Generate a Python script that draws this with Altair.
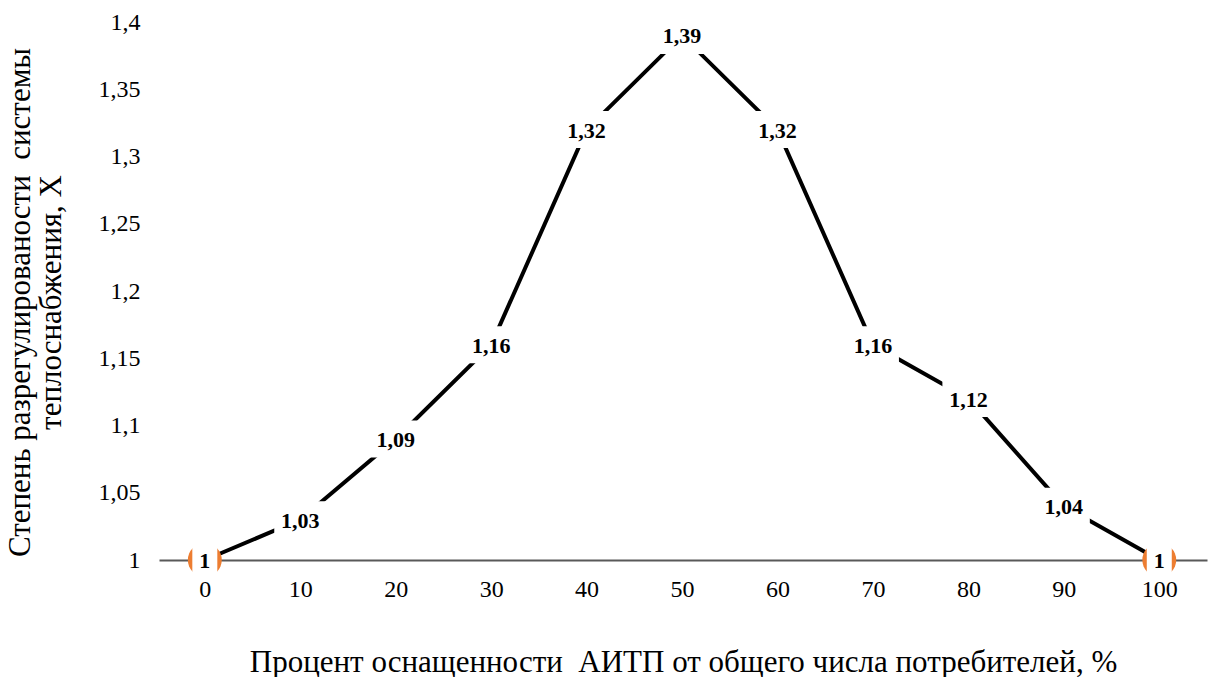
import altair as alt
import pandas as pd

# Share of consumers equipped with automated substations (%) and resulting
# heat-supply imbalance degree X
share_pct = [0, 10, 20, 30, 40, 50, 60, 70, 80, 90, 100]
imbalance = [1.00, 1.03, 1.09, 1.16, 1.32, 1.39, 1.32, 1.16, 1.12, 1.04, 1.00]

x_ticks = [0, 10, 20, 30, 40, 50, 60, 70, 80, 90, 100]
y_ticks = [1.0, 1.05, 1.1, 1.15, 1.2, 1.25, 1.3, 1.35, 1.4]

df = pd.DataFrame({"share": share_pct, "x": imbalance})

FONT = "Liberation Serif"
PLOT_W, PLOT_H = 1048, 538
NBSP = "\u00a0"

x_enc = alt.X(
    "share:Q",
    scale=alt.Scale(domain=[-4.8, 105], nice=False, zero=False),
    axis=alt.Axis(
        values=x_ticks,
        title=f"Процент оснащенности{NBSP} АИТП от общего числа потребителей, %",
        titleFont=FONT, titleFontSize=31, titleFontWeight="normal",
        titleColor="#000000", titleLimit=2000,
        titleX=524, titleY=111, titleBaseline="alphabetic", titleAlign="center",
        labelFont=FONT, labelFontSize=24, labelColor="#000000",
        labelPadding=17, labelBaseline="top",
        ticks=False, grid=False,
        domainColor="#595959", domainWidth=2,
    ),
)
y_enc = alt.Y(
    "x:Q",
    scale=alt.Scale(domain=[1.0, 1.4], nice=False, zero=False),
    axis=alt.Axis(
        values=y_ticks,
        labelExpr="replace(format(datum.value, '.2~f'), '.', ',')",
        title=[f"Степень разрегулированости{NBSP} системы", "теплоснабжения, X"],
        titleFont=FONT, titleFontSize=31, titleFontWeight="normal",
        titleColor="#000000", titleLineHeight=31, titleLimit=2000,
        titleAngle=-90, titleAlign="center", titleBaseline="top",
        titleX=-154, titleY=280,
        labelFont=FONT, labelFontSize=24, labelColor="#000000",
        labelPadding=19,
        ticks=False, grid=False, domain=False,
    ),
)

base = alt.Chart(df).encode(x=x_enc, y=y_enc)

line = base.mark_line(color="#000000", strokeWidth=4)
markers = base.mark_circle(size=1150, color="#ED7D31", opacity=1)

labelled = base.transform_calculate(
    lbl="replace(format(datum.x, '.2~f'), '.', ',')"
)
box_wide = labelled.transform_filter("datum.x != 1").mark_rect(
    color="white", width=52, height=37
)
box_narrow = labelled.transform_filter("datum.x == 1").mark_rect(
    color="white", width=25, height=37
)
labels = labelled.mark_text(
    font=FONT, fontSize=22, fontWeight="bold", color="#000000",
    baseline="middle", align="center", dy=1
).encode(text="lbl:N")

chart = (
    alt.layer(line, markers, box_wide, box_narrow, labels)
    .properties(
        width=PLOT_W,
        height=PLOT_H,
        autosize=alt.AutoSizeParams(type="none"),
        padding={"left": 159, "top": 22, "right": 5, "bottom": 117},
        background="white",
    )
    .configure_view(stroke=None)
)

chart.save("out.html", embed_options={"renderer": "svg", "actions": False})
